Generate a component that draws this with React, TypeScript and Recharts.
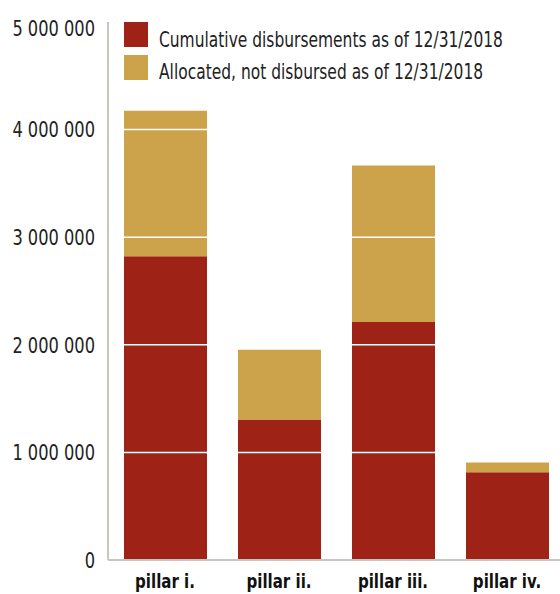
import React from "react";
import { BarChart, Bar, XAxis, YAxis, ReferenceLine } from "recharts";

const categories = ["pillar i.", "pillar ii.", "pillar iii.", "pillar iv."];
const disbursed = [2824000, 1306000, 2213000, 815000];
const allocated = [1352000, 648000, 1454000, 92000];
const yTicks = [0, 1000000, 2000000, 3000000, 4000000, 5000000];
const gridValues = [1000000, 2000000, 3000000, 4000000];
const seriesNames = [
  "Cumulative disbursements as of 12/31/2018",
  "Allocated, not disbursed as of 12/31/2018",
];

const RED = "#9e2216";
const GOLD = "#cca34b";
const FONT = "'DejaVu Sans Condensed', 'DejaVu Sans', sans-serif";

const data = categories.map((c, i) => ({
  name: c,
  disbursed: disbursed[i],
  allocated: allocated[i],
}));

const fmt = (v: number) => String(v).replace(/\B(?=(\d{3})+(?!\d))/g, " ");

const YTick = (props: any) => {
  const { x, y, payload } = props;
  const shift = payload.value === 5000000 ? 6 : 0;
  return (
    <text
      transform={`translate(${x},${y + shift}) scale(0.84,1)`}
      textAnchor="end"
      dy="0.36em"
      fill="#222"
      fontSize={21.5}
      fontFamily={FONT}
    >
      {fmt(payload.value)}
    </text>
  );
};

const XTick = (props: any) => {
  const { x, y, payload } = props;
  return (
    <text
      transform={`translate(${x},${y}) scale(0.88,1)`}
      textAnchor="middle"
      dy={21.7}
      fill="#111"
      fontSize={19}
      fontWeight="bold"
      fontFamily={FONT}
    >
      {payload.value}
    </text>
  );
};

const LegendBox = () => (
  <div style={{ position: "absolute", left: 0, top: 0, fontFamily: FONT, fontSize: 21.5, color: "#222" }}>
    {[RED, GOLD].map((col, i) => (
      <React.Fragment key={i}>
        <div
          style={{
            position: "absolute",
            left: 124,
            top: 22 + i * 32.5,
            width: 24,
            height: 25,
            background: col,
          }}
        />
        <span
          style={{
            position: "absolute",
            left: 159,
            top: 26.7 + i * 31.8,
            whiteSpace: "nowrap",
            lineHeight: "normal",
            display: "inline-block",
            transform: "scaleX(0.80)",
            transformOrigin: "left center",
          }}
        >
          {seriesNames[i]}
        </span>
      </React.Fragment>
    ))}
  </div>
);

export default function App() {
  return (
    <div
      style={{
        position: "absolute",
        left: 0,
        top: 0,
        width: 560,
        height: 594,
        overflow: "hidden",
        background: "#fff",
      }}
    >
      <BarChart
        width={564}
        height={594}
        data={data}
        margin={{ top: 22, right: 0, bottom: 0, left: 0 }}
      >
        <YAxis
          domain={[0, 5000000]}
          ticks={yTicks}
          width={108}
          tickLine={false}
          axisLine={{ stroke: "#c9c5c1", strokeWidth: 2 }}
          tick={<YTick />}
          tickMargin={7}
          interval={0}
        />
        <XAxis
          dataKey="name"
          tickLine={false}
          axisLine={{ stroke: "#c9c5c1", strokeWidth: 2 }}
          tick={<XTick />}
          height={34}
          tickMargin={0}
          interval={0}
        />
        <Bar dataKey="disbursed" stackId="a" fill={RED} isAnimationActive={false} barSize={83} />
        <Bar dataKey="allocated" stackId="a" fill={GOLD} isAnimationActive={false} barSize={83} />
        {gridValues.map((v) => (
          <ReferenceLine key={v} y={v} stroke="#ffffff" strokeWidth={1.5} />
        ))}
      </BarChart>
      <LegendBox />
    </div>
  );
}
